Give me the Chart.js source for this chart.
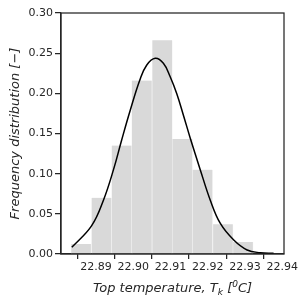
<!DOCTYPE html>
<html>
<head>
<meta charset="utf-8">
<script src="https://cdn.jsdelivr.net/npm/chart.js@4"></script>
<style>
html,body{margin:0;padding:0;background:#fff;}
#wrap{width:305px;height:304px;}
</style>
</head>
<body>
<div id="wrap"><canvas id="c" width="305" height="304"></canvas></div>
<script>
// Histogram bins (centres) and frequencies
const binCenters = [22.8860, 22.8915, 22.8969, 22.9023, 22.9078, 22.9132, 22.9186, 22.9241, 22.9295];
const binFreq    = [0.0125, 0.070, 0.135, 0.216, 0.266, 0.143, 0.105, 0.037, 0.015];
// Fitted curve
const curveX = [22.8835, 22.8888, 22.8920, 22.8947, 22.8969, 22.8992, 22.9018, 22.9036, 22.9059, 22.9081, 22.9099, 22.9117, 22.9135, 22.9153, 22.9180, 22.9207, 22.9234, 22.9270, 22.9306, 22.9341, 22.9377];
const curveY = [0.0083, 0.0350, 0.0670, 0.1050, 0.1420, 0.1790, 0.2170, 0.2350, 0.2436, 0.2374, 0.2210, 0.1995, 0.1725, 0.1445, 0.1050, 0.0670, 0.0380, 0.0174, 0.0050, 0.0016, 0.0009];
const xTicks = [22.89, 22.90, 22.91, 22.92, 22.93, 22.94];
const yTicks = [0.00, 0.05, 0.10, 0.15, 0.20, 0.25, 0.30];
// x title pieces: [text, 0 normal | 1 subscript | 2 superscript]
const xTitleParts = [['Top temperature, T', 0], ['k', 1], [' [', 0], ['0', 2], ['C]', 0]];
const yTitle = 'Frequency distribution [−]';

const ink = '#262626';
const FONT = '"DejaVu Sans", sans-serif';

const frame = {
  id: 'frame',
  afterDatasetsDraw(chart) {
    const a = chart.chartArea, ctx = chart.ctx;
    ctx.save();
    ctx.strokeStyle = ink;
    ctx.lineWidth = 1.25;
    ctx.strokeRect(a.left, a.top, a.right - a.left, a.bottom - a.top);
    ctx.restore();
  },
  afterDraw(chart) {
    const a = chart.chartArea, ctx = chart.ctx;
    ctx.save();
    ctx.fillStyle = ink;
    ctx.textBaseline = 'alphabetic';
    ctx.textAlign = 'left';
    const big = 'italic 13px ' + FONT, small = 'italic 9px ' + FONT;
    let w = 0;
    xTitleParts.forEach(([t, k]) => { ctx.font = k ? small : big; w += ctx.measureText(t).width; });
    let x = (a.left + a.right) / 2 - w / 2;
    const base = 292;
    xTitleParts.forEach(([t, k]) => {
      ctx.font = k ? small : big;
      const dy = k === 1 ? 3 : (k === 2 ? -5 : 0);
      ctx.fillText(t, x, base + dy);
      x += ctx.measureText(t).width;
    });
    ctx.restore();
  }
};

new Chart(document.getElementById('c'), {
  data: {
    datasets: [
      {
        type: 'line',
        data: curveX.map((x, i) => ({x, y: curveY[i]})),
        borderColor: '#000',
        borderWidth: 1.5,
        pointRadius: 0,
        tension: 0.4,
        fill: false,
        order: 0
      },
      {
        type: 'bar',
        data: binCenters.map((x, i) => ({x, y: binFreq[i]})),
        backgroundColor: '#d9d9d9',
        borderColor: '#f2f2f2',
        borderWidth: {left: 0.6, right: 0.6, top: 0, bottom: 0},
        borderSkipped: false,
        barPercentage: 1,
        categoryPercentage: 1,
        order: 1
      }
    ]
  },
  options: {
    responsive: false,
    animation: false,
    devicePixelRatio: 1,
    layout: {padding: {left: 0, top: 13, right: 21, bottom: 0}},
    plugins: {legend: {display: false}, tooltip: {enabled: false}},
    scales: {
      x: {
        type: 'linear',
        min: 22.8806,
        max: 22.9405,
        offset: false,
        afterBuildTicks: s => { s.ticks = xTicks.map(v => ({value: v})); },
        afterFit: s => { s.height = 50; },
        grid: {display: true, drawOnChartArea: false, drawTicks: true, tickLength: 5, color: ink, lineWidth: 1.25},
        border: {display: true, color: ink, width: 1.25},
        ticks: {
          color: ink, padding: 2, maxRotation: 0, autoSkip: false,
          font: {family: FONT, size: 11},
          callback: v => v.toFixed(2)
        },
        title: {display: false}
      },
      y: {
        type: 'linear',
        min: 0,
        max: 0.30,
        afterBuildTicks: s => { s.ticks = yTicks.map(v => ({value: v})); },
        afterFit: s => { s.width = 61; },
        grid: {display: true, drawOnChartArea: false, drawTicks: true, tickLength: 6, color: ink, lineWidth: 1.25},
        border: {display: true, color: ink, width: 1.25},
        ticks: {
          color: ink, padding: 2, autoSkip: false,
          font: {family: FONT, size: 11},
          callback: v => v.toFixed(2)
        },
        title: {display: true, text: yTitle, color: ink, padding: {top: 8, bottom: 0},
          font: {family: FONT, size: 13, style: 'italic'}}
      }
    }
  },
  plugins: [frame]
});
</script>
</body>
</html>
